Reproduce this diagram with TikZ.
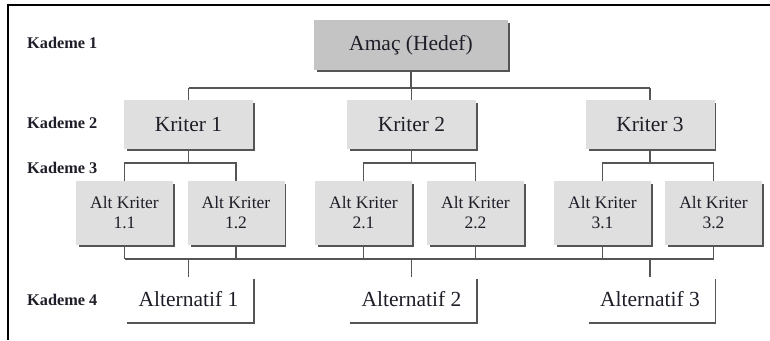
\documentclass[tikz,border=0pt]{standalone}
\usepackage{fontspec}
\setmainfont{Liberation Serif}
\definecolor{goalfill}{RGB}{196,196,196}
\definecolor{boxfill}{RGB}{223,223,223}
\definecolor{edge}{RGB}{85,85,85}
\definecolor{ink}{RGB}{30,30,40}
\begin{document}
\begin{tikzpicture}[x=1pt,y=-1pt,
  box/.style={inner sep=0pt, outer sep=0pt, text=ink, align=center},
  goalbox/.style={box, fill=goalfill, minimum width=194pt, minimum height=50pt, font=\fontsize{21.5}{23}\selectfont},
  critbox/.style={box, fill=boxfill, minimum width=129pt, minimum height=49pt, font=\fontsize{21.5}{23}\selectfont},
  subbox/.style={box, fill=boxfill, minimum width=97pt, minimum height=64pt, font=\fontsize{17.5}{20}\selectfont},
  altbox/.style={box, fill=white, minimum width=129pt, minimum height=46pt, font=\fontsize{21.5}{23}\selectfont},
  level/.style={anchor=west, inner sep=0pt, text=ink, font=\bfseries\fontsize{16.3}{19}\selectfont},
  link/.style={draw=edge, line width=1.4pt},
  shade/.style={draw=edge, line width=1.4pt}
]
\useasboundingbox (0,0) rectangle (770,340);

% outer frame (top and left sides)
\draw[black, line width=2pt] (770,5) -- (8,5) -- (8,340);

% level labels
\node[level] (k1) at (27,43)  {Kademe 1};
\node[level] (k2) at (27,123) {Kademe 2};
\node[level] (k3) at (27,168) {Kademe 3};
\node[level] (k4) at (27,300) {Kademe 4};

% goal
\node[goalbox] (goal) at (411,45) {Amaç (Hedef)};

% criteria
\node[critbox] (c1) at (188.5,124.5) {Kriter 1};
\node[critbox] (c2) at (411.5,124.5) {Kriter 2};
\node[critbox] (c3) at (650,124.5)   {Kriter 3};

% sub-criteria
\node[subbox] (s11) at (124.5,213) {Alt Kriter\\1.1};
\node[subbox] (s12) at (236,213)   {Alt Kriter\\1.2};
\node[subbox] (s21) at (363.5,213) {Alt Kriter\\2.1};
\node[subbox] (s22) at (475.5,213) {Alt Kriter\\2.2};
\node[subbox] (s31) at (602.5,213) {Alt Kriter\\3.1};
\node[subbox] (s32) at (713.5,213) {Alt Kriter\\3.2};

% alternatives
\node[altbox] (a1) at (188.5,299) {Alternatif 1};
\node[altbox] (a2) at (411.5,299) {Alternatif 2};
\node[altbox] (a3) at (650,299)   {Alternatif 3};

% drop shadows along right and bottom edges
\foreach \n in {goal,c1,c2,c3,s11,s12,s21,s22,s31,s32,a1,a2,a3}{
  \draw[shade] ([shift={(1,3)}]\n.north east) -- ([shift={(1,1)}]\n.south east) -- ([shift={(3,1)}]\n.south west);
}

% goal to criteria
\coordinate (busA) at (0,88);
\draw[link] (goal.south) -- (goal.south |- busA);
\draw[link] (c1.north |- busA) -- (c3.north |- busA);
\foreach \c in {c1,c2,c3}{ \draw[link] (\c.north |- busA) -- (\c.north); }

% criteria to sub-criteria
\coordinate (busB) at (0,163);
\foreach \c/\l/\r in {c1/s11/s12, c2/s21/s22, c3/s31/s32}{
  \draw[link] (\c.south) -- (\c.south |- busB);
  \draw[link] (\l.north) -- (\l.north |- busB) -- (\r.north |- busB) -- (\r.north);
}

% sub-criteria to alternatives
\coordinate (busC) at (0,259);
\draw[link] (s11.south |- busC) -- (s32.south |- busC);
\foreach \s in {s11,s12,s21,s22,s31,s32}{ \draw[link] (\s.south) -- (\s.south |- busC); }
\foreach \a in {a1,a2,a3}{ \draw[link] (\a.north |- busC) -- ([yshift=-1pt]\a.north); }
\end{tikzpicture}
\end{document}
